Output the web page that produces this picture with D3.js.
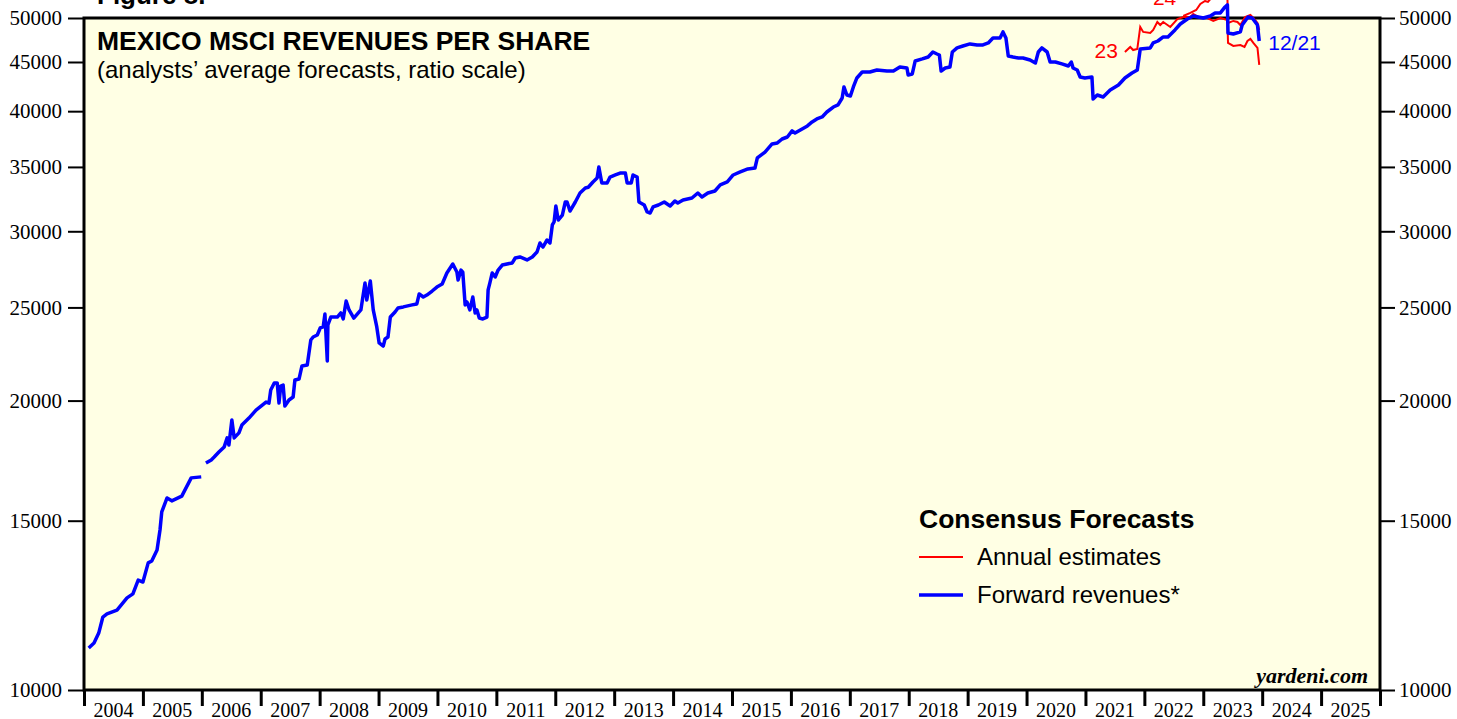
<!DOCTYPE html>
<html>
<head>
<meta charset="utf-8">
<script src="https://cdn.jsdelivr.net/npm/d3@7"></script>
<style>
    body { margin: 0; background: #fff; }
    svg { display: block; }
</style>
</head>
<body>
<svg id="chart" width="1457" height="719"></svg>
<script>
//forward revenues (decimal year, value), null = gap in the series
const fwdDates = [
    2004.08, 2004.17, 2004.25, 2004.32, 2004.39, 2004.56, 2004.73, 2004.83, 2004.92, 2005.00,
    2005.09, 2005.15, 2005.24, 2005.29, 2005.32, 2005.41, 2005.49, 2005.66, 2005.82, 2005.99,
    2006.03, 2006.07, 2006.16, 2006.21, 2006.29, 2006.38, 2006.43, 2006.46, 2006.51, 2006.55,
    2006.63, 2006.68, 2006.80, 2006.92, 2007.09, 2007.14, 2007.17, 2007.23, 2007.28, 2007.31,
    2007.34, 2007.38, 2007.41, 2007.48, 2007.55, 2007.58, 2007.65, 2007.70, 2007.79, 2007.85,
    2007.89, 2007.96, 2008.01, 2008.06, 2008.09, 2008.13, 2008.14, 2008.19, 2008.30, 2008.36,
    2008.40, 2008.45, 2008.50, 2008.58, 2008.70, 2008.77, 2008.80, 2008.86, 2008.91, 2008.97,
    2009.01, 2009.08, 2009.11, 2009.16, 2009.20, 2009.28, 2009.33, 2009.42, 2009.57, 2009.65,
    2009.69, 2009.76, 2009.82, 2009.91, 2009.99, 2010.08, 2010.16, 2010.26, 2010.33, 2010.35,
    2010.40, 2010.43, 2010.47, 2010.50, 2010.55, 2010.60, 2010.64, 2010.67, 2010.71, 2010.77,
    2010.84, 2010.86, 2010.89, 2010.93, 2010.98, 2011.03, 2011.10, 2011.18, 2011.27, 2011.32,
    2011.40, 2011.52, 2011.61, 2011.69, 2011.74, 2011.79, 2011.86, 2011.91, 2011.95, 2011.98,
    2012.01, 2012.05, 2012.12, 2012.17, 2012.20, 2012.25, 2012.34, 2012.42, 2012.51, 2012.56,
    2012.64, 2012.71, 2012.74, 2012.79, 2012.88, 2012.93, 2013.02, 2013.10, 2013.19, 2013.22,
    2013.29, 2013.32, 2013.39, 2013.42, 2013.51, 2013.56, 2013.61, 2013.66, 2013.75, 2013.85,
    2013.95, 2014.03, 2014.08, 2014.17, 2014.32, 2014.42, 2014.49, 2014.59, 2014.71, 2014.80,
    2014.92, 2015.02, 2015.14, 2015.27, 2015.39, 2015.43, 2015.56, 2015.68, 2015.77, 2015.85,
    2015.94, 2016.02, 2016.07, 2016.16, 2016.28, 2016.36, 2016.44, 2016.53, 2016.61, 2016.72,
    2016.80, 2016.87, 2016.90, 2016.95, 2017.01, 2017.06, 2017.12, 2017.21, 2017.34, 2017.46,
    2017.63, 2017.74, 2017.85, 2017.97, 2017.99, 2018.06, 2018.11, 2018.23, 2018.33, 2018.41,
    2018.48, 2018.52, 2018.55, 2018.62, 2018.70, 2018.74, 2018.82, 2018.92, 2019.04, 2019.16,
    2019.26, 2019.35, 2019.43, 2019.55, 2019.60, 2019.65, 2019.69, 2019.77, 2019.86, 2019.94,
    2020.06, 2020.15, 2020.20, 2020.26, 2020.35, 2020.40, 2020.49, 2020.60, 2020.71, 2020.76,
    2020.79, 2020.86, 2020.91, 2020.99, 2021.11, 2021.13, 2021.20, 2021.30, 2021.42, 2021.56,
    2021.67, 2021.79, 2021.88, 2021.93, 2022.10, 2022.15, 2022.23, 2022.32, 2022.40, 2022.52,
    2022.61, 2022.73, 2022.83, 2023.00, 2023.12, 2023.20, 2023.29, 2023.37, 2023.41, 2023.42,
    2023.51, 2023.63, 2023.66, 2023.76, 2023.83, 2023.92, 2023.95
];
const fwdRevenues = [
    11060, 11190, 11460, 11910, 12000, 12110, 12470, 12590, 13010, 12950,
    13560, 13620, 13980, 14670, 15320, 15840, 15730, 15910, 16620, 16660,
    null, 17220, 17350, 17470, 17680, 17900, 18290, 17980, 19090, 18290,
    18510, 18860, 19180, 19550, 19930, 19880, 20510, 20860, 20860, 19880,
    20710, 20760, 19740, 20030, 20170, 21010, 21060, 21730, 21780, 23120,
    23290, 23400, 23800, 23860, 24610, 21990, 23970, 24430, 24430, 24670,
    24320, 25390, 24850, 24370, 24850, 26510, 25450, 26630, 24850, 23860,
    22960, 22790, 23180, 23290, 24430, 24730, 24970, 25030, 25150, 25210,
    25820, 25630, 25750, 26000, 26250, 26440, 27150, 27740, 27210, 26700,
    27340, 27210, 25150, 25330, 24850, 25630, 24670, 24850, 24370, 24320,
    24430, 26070, 26510, 27150, 26890, 27340, 27670, 27740, 27810, 28140,
    28210, 28010, 28210, 28550, 29170, 28890, 29380, 29170, 30460, 30680,
    31870, 30820, 31190, 32180, 32180, 31490, 32180, 32880, 33280, 33340,
    33760, 34080, 34990, 33680, 33680, 34160, 34330, 34490, 34490, 33680,
    33680, 34330, 34160, 32180, 31950, 31420, 31340, 31800, 31950, 32180,
    31870, 32260, 32100, 32340, 32490, 32880, 32570, 32880, 33040, 33520,
    33760, 34330, 34580, 34830, 34910, 35760, 36270, 36980, 37070, 37420,
    37600, 38150, 37960, 38240, 38610, 38980, 39260, 39450, 39920, 40400,
    40600, 41280, 42390, 41580, 41480, 42390, 43310, 43930, 43930, 44150,
    44040, 44040, 44470, 44360, 43620, 43730, 45110, 45330, 45540, 46090,
    45870, 45760, 44040, 44360, 44470, 46090, 46540, 46760, 46990, 46870,
    46870, 47100, 47660, 47660, 48360, 47660, 45650, 45540, 45430, 45430,
    45220, 44890, 46090, 46540, 46090, 45000, 45000, 44790, 44570, 45000,
    44360, 44150, 43410, 43310, 43410, 41180, 41580, 41380, 42080, 42590,
    43310, 43830, 44150, 46430, 46540, 47100, 47320, 47780, 47780, 48590,
    49290, 49880, 50240, 50000, 50240, 50610, 50610, 51340, 51590, 48240,
    48120, 48360, 49170, 50120, 50000, 49170, 47320
];

//annual estimates
const est2023Dates = [
    2021.67, 2021.76, 2021.81, 2021.88, 2021.93, 2021.98, 2022.10, 2022.15, 2022.22, 2022.27,
    2022.32, 2022.44, 2022.56, 2022.66, 2022.78, 2022.83, 2022.95, 2023.07, 2023.17, 2023.29,
    2023.41, 2023.42, 2023.51, 2023.63, 2023.70, 2023.75, 2023.80, 2023.85, 2023.92, 2023.95
];
const est2023Values = [
    46090, 46650, 46310, 46430, 48940, 48360, 48240, 48590, 49530, 49170,
    49530, 48940, 49880, 50120, 50120, 50490, 50000, 50000, 49650, 50000,
    49770, 47100, 46760, 46870, 46650, 47320, 47550, 47100, 46540, 44680
];
const est2024Dates = [
    2022.66, 2022.78, 2022.88, 2022.95, 2023.03, 2023.08, 2023.15, 2023.29, 2023.41, 2023.42,
    2023.51, 2023.58, 2023.63, 2023.71, 2023.80, 2023.85, 2023.92, 2023.95
];
const est2024Values = [
    50240, 50610, 50970, 51710, 52080, 51960, 52580, 52700, 52460, 49410,
    49650, 49530, 49170, 50120, 50360, 50000, 49410, 48590
];
const estLabels = ["23", "24"];

const yTicks = [10000, 15000, 20000, 25000, 30000, 35000, 40000, 45000, 50000];
const years = d3.range(2004, 2026);

//setup chart
const margin = { top: 18, right: 77, bottom: 29, left: 84 };
const width = 1457, height = 719;
const innerW = width - margin.left - margin.right;
const innerH = height - margin.top - margin.bottom;

const svg = d3.select("#chart");
const g = svg.append("g")
    .attr("transform", `translate(${margin.left},${margin.top})`);

const x = d3.scaleLinear()
    .domain([2004, 2026])
    .range([0, innerW]);

//ratio scale
const y = d3.scaleLog()
    .domain([10000, 50000])
    .range([innerH, 0]);

//plot background
g.append("rect")
    .attr("width", innerW)
    .attr("height", innerH)
    .attr("fill", "#ffffe4");

//left + right axis
const leftAxis = g.append("g")
    .call(d3.axisLeft(y).tickValues(yTicks).tickFormat(d3.format("d")).tickSize(16).tickPadding(6));
const rightAxis = g.append("g")
    .attr("transform", `translate(${innerW},0)`)
    .call(d3.axisRight(y).tickValues(yTicks).tickFormat(d3.format("d")).tickSize(15).tickPadding(4));

[leftAxis, rightAxis].forEach(a => {
    a.select(".domain").remove();
    a.selectAll(".tick line").attr("stroke", "#000").attr("stroke-width", 2);
    a.selectAll(".tick text")
        .style("font-family", "'Liberation Serif', 'Times New Roman', serif")
        .style("font-size", "21px")
        .attr("fill", "#000");
});

//bottom axis: ticks on year boundaries, labels in between
const bottomAxis = g.append("g")
    .attr("transform", `translate(0,${innerH})`)
    .call(d3.axisBottom(x).tickValues(d3.range(2004, 2027)).tickFormat("").tickSize(16));
bottomAxis.select(".domain").remove();
bottomAxis.selectAll(".tick line").attr("stroke", "#000").attr("stroke-width", 3);

g.selectAll("text.year")
    .data(years)
    .join("text")
    .attr("class", "year")
    .attr("x", d => x(d + 0.5))
    .attr("y", innerH + 27)
    .attr("text-anchor", "middle")
    .style("font-family", "'Liberation Serif', 'Times New Roman', serif")
    .style("font-size", "20px")
    .text(d => d);

//frame
g.append("rect")
    .attr("width", innerW)
    .attr("height", innerH)
    .attr("fill", "none")
    .attr("stroke", "#000")
    .attr("stroke-width", 3);

//titles
const sans = "'Liberation Sans', Arial, Helvetica, sans-serif";
svg.append("text")
    .attr("x", 97).attr("y", 4)
    .style("font-family", sans).style("font-size", "26px").style("font-weight", "bold")
    .text("Figure 8.");
svg.append("text")
    .attr("x", 97).attr("y", 50)
    .style("font-family", sans).style("font-size", "26.5px").style("font-weight", "bold")
    .text("MEXICO MSCI REVENUES PER SHARE");
svg.append("text")
    .attr("x", 97).attr("y", 78)
    .style("font-family", sans).style("font-size", "24px")
    .text("(analysts\u2019 average forecasts, ratio scale)");

//lines
const line = d3.line()
    .defined(d => d[1] != null)
    .x(d => x(d[0]))
    .y(d => y(d[1]));

const estSeries = [d3.zip(est2023Dates, est2023Values), d3.zip(est2024Dates, est2024Values)];

g.selectAll("path.est")
    .data(estSeries)
    .join("path")
    .attr("class", "est")
    .attr("d", line)
    .attr("fill", "none")
    .attr("stroke", "#ff0000")
    .attr("stroke-width", 2);

//year labels in front of each estimate line
const labelDy = [6, -11];
g.selectAll("text.estlabel")
    .data(estSeries)
    .join("text")
    .attr("class", "estlabel")
    .attr("x", d => x(d[0][0]) - 7)
    .attr("y", (d, i) => y(d[0][1]) + labelDy[i])
    .attr("text-anchor", "end")
    .style("font-family", sans)
    .style("font-size", "21px")
    .attr("fill", "#ff0000")
    .text((d, i) => estLabels[i]);

const fwd = d3.zip(fwdDates, fwdRevenues);
g.append("path")
    .datum(fwd)
    .attr("d", line)
    .attr("fill", "none")
    .attr("stroke", "#0000ff")
    .attr("stroke-width", 3.5)
    .attr("stroke-linejoin", "round");

//last date label
const last = fwd[fwd.length - 1];
g.append("text")
    .attr("x", x(last[0]) + 9)
    .attr("y", y(last[1]) + 9)
    .style("font-family", sans)
    .style("font-size", "21px")
    .attr("fill", "#0000ff")
    .text("12/21");

//legend
const legend = svg.append("g").attr("transform", "translate(919,0)");
legend.append("text")
    .attr("x", 0).attr("y", 528)
    .style("font-family", sans).style("font-size", "26.5px").style("font-weight", "bold")
    .text("Consensus Forecasts");
const legendItems = [
    { label: "Annual estimates", color: "#ff0000", w: 2 },
    { label: "Forward revenues*", color: "#0000ff", w: 3.5 }
];
legendItems.forEach((item, i) => {
    const ly = 557 + i * 38;
    legend.append("line")
        .attr("x1", 0).attr("x2", 44)
        .attr("y1", ly).attr("y2", ly)
        .attr("stroke", item.color)
        .attr("stroke-width", item.w);
    legend.append("text")
        .attr("x", 58).attr("y", ly + 8)
        .style("font-family", sans).style("font-size", "24px")
        .text(item.label);
});

//source
svg.append("text")
    .attr("x", 1368).attr("y", 683)
    .attr("text-anchor", "end")
    .style("font-family", "'Liberation Serif', 'Times New Roman', serif")
    .style("font-size", "22px")
    .style("font-weight", "bold")
    .style("font-style", "italic")
    .text("yardeni.com");
</script>
</body>
</html>
